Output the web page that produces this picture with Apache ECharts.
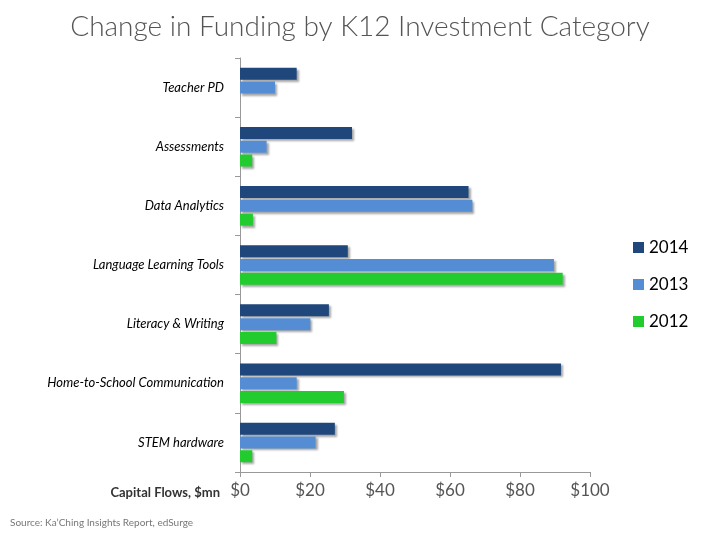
<!DOCTYPE html><html><head><meta charset="utf-8"><script src="https://cdn.jsdelivr.net/npm/echarts@6/dist/echarts.min.js"></script></head><body style="margin:0"><div id="c" style="width:720px;height:540px"></div><script>
const categories=["Teacher PD","Assessments","Data Analytics","Language Learning Tools","Literacy & Writing","Home-to-School Communication","STEM hardware"];
const v2014=[16.2,32,65.3,30.8,25.4,91.7,27.1];
const v2013=[10,7.6,66.4,89.7,20.1,16.2,21.6];
const v2012=[null,3.5,3.7,92.2,10.4,29.7,3.5];
const xTicks=[0,20,40,60,80,100];
const ch=echarts.init(document.getElementById('c'));
const shadow={shadowColor:'rgba(0,0,0,0.35)',shadowOffsetX:2,shadowOffsetY:2,shadowBlur:2};
const mk=(n,d,c)=>({name:n,type:'bar',data:d,barWidth:12,barGap:'15%',itemStyle:Object.assign({color:c},shadow)});
ch.setOption({
title:{text:'Change in Funding by K12 Investment Category',left:'center',top:8,textStyle:{fontFamily:'Lato',fontWeight:300,fontSize:28,color:'#555'}},
legend:{orient:'vertical',left:628,top:234,itemWidth:11,itemHeight:11,itemGap:20,icon:'rect',textStyle:{fontFamily:'Lato',fontSize:17,color:'#000'},data:['2014','2013','2012']},
grid:{left:240,right:130,top:58,bottom:68},
xAxis:{type:'value',min:0,max:100,interval:20,axisLine:{show:true,lineStyle:{color:'#999'}},axisTick:{show:true,length:5,lineStyle:{color:'#999'}},splitLine:{show:false},axisLabel:{fontFamily:'Lato',fontSize:17,color:'#555',margin:10,formatter:v=>xTicks.includes(v)?'$'+v:''},name:'Capital Flows, $mn',nameLocation:'start',nameGap:20,nameTextStyle:{fontFamily:'Lato',fontWeight:'bold',fontSize:13,color:'#333',verticalAlign:'top',padding:[14,0,0,0]}},
yAxis:{type:'category',data:categories,inverse:true,axisLine:{lineStyle:{color:'#999'}},axisTick:{show:true,length:5,lineStyle:{color:'#999'}},axisLabel:{fontFamily:'Lato',fontStyle:'italic',fontSize:13,color:'#000',margin:16}},
series:[mk('2014',v2014,'#1f477b'),mk('2013',v2013,'#548dd4'),mk('2012',v2012,'#22cc2e')],
graphic:[{type:'text',left:10,top:518,style:{text:'Source: Ka\u2019Ching Insights Report, edSurge',fontFamily:'Lato',fontSize:10,fill:'#777'}}]
});
</script></body></html>
